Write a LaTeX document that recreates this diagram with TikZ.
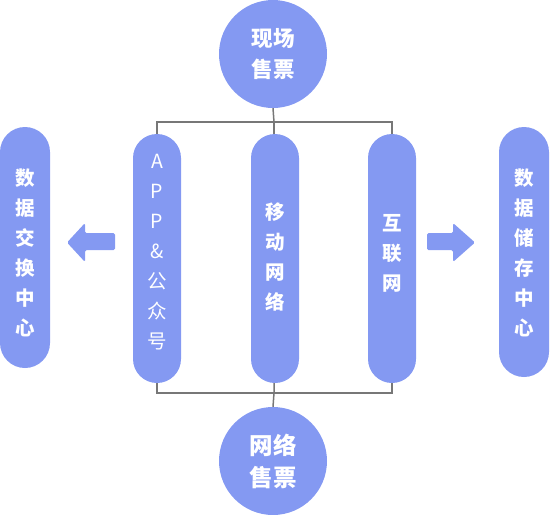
\documentclass[tikz,border=0pt]{standalone}
\usepackage{fontspec}
\newfontfamily\cjk{Noto Sans CJK SC}
\definecolor{fillc}{HTML}{8499F2}
\definecolor{linec}{HTML}{777777}
\begin{document}
\begin{tikzpicture}[x=1pt,y=-1pt,
  disc/.style={circle,fill=fillc,minimum size=108pt,inner sep=0pt,text=white,align=center,
    font={\cjk\bfseries\fontsize{21.5}{31}\selectfont}},
  pill/.style={rectangle,rounded corners=24pt,fill=fillc,minimum width=48pt,inner sep=0pt},
  vtext/.style={text=white,align=center,inner sep=0pt,font={\cjk\bfseries\fontsize{19.5}{30}\selectfont}},
  vtextr/.style={text=white,align=center,inner sep=0pt,font={\cjk\fontsize{19.5}{30}\selectfont}},
  bus/.style={draw=linec,line width=1.5pt},
  blockarrow/.style={fill=fillc,rounded corners=1.5pt}]
\useasboundingbox (0,0) rectangle (550,515);
\coordinate (tj) at (274,122);
\coordinate (bj) at (274,393);
\node[disc] (top) at (273,54) {现场\\售票};
\node[disc,font={\cjk\bfseries\fontsize{23.5}{32}\selectfont}] (bot) at (273,461) {网络\\售票};
\draw[bus] (top.south) -- (tj);
\draw[bus] (157,134) -- (157,122) -- (392,122) -- (392,134);
\draw[bus] (274,122) -- (274,134);
\draw[bus] (157,383) -- (157,393) -- (392,393) -- (392,383);
\draw[bus] (274,383) -- (bj) -- (bot.north);
% pills
\node[pill,minimum height=249pt] (app) at (157,258.5) {};
\node[pill,minimum height=249pt] (mob) at (275,258.5) {};
\node[pill,minimum height=249pt] (net) at (392,258.5) {};
\node[pill,minimum width=50pt,rounded corners=25pt,minimum height=241pt] (xch) at (25,247.5) {};
\node[pill,minimum width=50pt,rounded corners=25pt,minimum height=250pt] (sto) at (524,252) {};
\node[vtextr] (appt) at (157,252) {A\\P\\P\\\&\\公\\众\\号};
\node[vtext] (mobt) at (275,257) {移\\动\\网\\络};
\node[vtext] (nett) at (392,253) {互\\联\\网};
\node[vtext] (xcht) at (25,253) {数\\据\\交\\换\\中\\心};
\node[vtext] (stot) at (524,253) {数\\据\\储\\存\\中\\心};
% block arrows
\fill[blockarrow] (67,242.5) -- (85,223) -- (85,233) -- (115,233) -- (115,250) -- (85,250) -- (85,262) -- cycle;
\fill[blockarrow] (427,233) -- (453,233) -- (453,223) -- (475,242.5) -- (453,262) -- (453,250) -- (427,250) -- cycle;
\end{tikzpicture}
\end{document}
